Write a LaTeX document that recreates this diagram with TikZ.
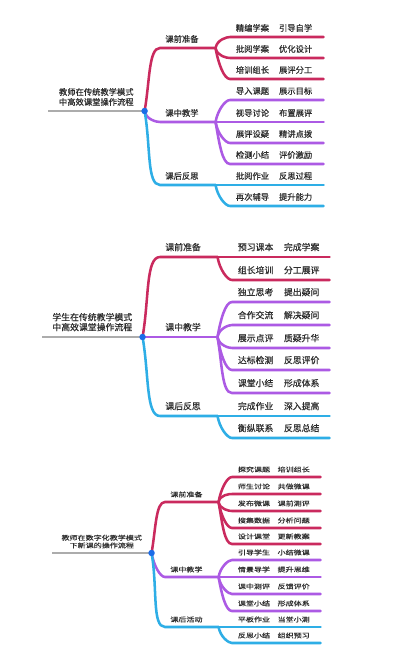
\documentclass[tikz,border=0pt]{standalone}
\usepackage{fontspec}
\setmainfont{Noto Sans CJK SC}[FakeBold=0.5]
\newfontfamily\cjkwide[FakeStretch=1.27, FakeBold=0.2]{Noto Sans CJK SC}
\usepackage{xcolor}
\usepackage{tikz}
\definecolor{mapred}{RGB}{202,42,94}
\definecolor{mappurple}{RGB}{172,90,228}
\definecolor{mapcyan}{RGB}{46,174,230}
\definecolor{hubblue}{RGB}{28,108,232}
\definecolor{stemgray}{RGB}{172,172,172}
\newcommand{\phrasegap}{\hspace{1.2em}}

\begin{document}
\begin{tikzpicture}[
    x=0.025cm, y=0.025cm,
    topic/.style={anchor=south west, inner xsep=0pt, align=center, text width=#1},
    branch/.style={anchor=south west, inner xsep=3.6pt, align=left, text width=#1},
    leaf/.style={anchor=south west, inner xsep=4pt, align=left, text width=#1},
    hub/.style={circle, fill=hubblue, inner sep=0pt, minimum size=4.6pt},
    stem/.style={draw=stemgray, line width=1.3pt},
    redline/.style={draw=mapred, line width=1.8pt, line cap=round},
    purpleline/.style={draw=mappurple, line width=1.8pt, line cap=round},
    cyanline/.style={draw=mapcyan, line width=1.8pt, line cap=round},
    rise/.style={out=80, in=180, out looseness=1.2, in looseness=0.45},
    fall/.style={out=-80, in=180, out looseness=1.2, in looseness=0.45}
  ]
    \fill[white] (0,0) rectangle (416,-660);
    \useasboundingbox (0,0) rectangle (416,-660);

    % teachers, traditional mode
    \begin{scope}[every node/.append style={font=\fontsize{5.9}{7.1}\selectfont, inner ysep=3.5pt, text=black!82}]
    \node[topic=68.3pt] (r1) at (48,-111) {教师在传统教学模式\\中高效课堂操作流程};
    \coordinate (o1) at (r1.south east);
    \node[branch=31.9pt] (b11) at (160,-48) {课前准备};
    \node[branch=31.9pt] (b12) at (160,-122) {课中教学};
    \node[branch=31.9pt] (b13) at (160,-185) {课后反思};
    \node[leaf=58.2pt] (c111) at (230,-37) {精编学案\phrasegap 引导自学};
    \node[leaf=58.2pt] (c112) at (230,-58) {批阅学案\phrasegap 优化设计};
    \node[leaf=58.2pt] (c113) at (230,-79) {培训组长\phrasegap 展评分工};
    \node[leaf=58.2pt] (c121) at (230,-100) {导入课题\phrasegap 展示目标};
    \node[leaf=58.2pt] (c122) at (230,-122) {视导讨论\phrasegap 布置展评};
    \node[leaf=58.2pt] (c123) at (230,-143) {展评设疑\phrasegap 精讲点拨};
    \node[leaf=58.2pt] (c124) at (230,-164) {检测小结\phrasegap 评价激励};
    \node[leaf=58.2pt] (c131) at (230,-185) {批阅作业\phrasegap 反思过程};
    \node[leaf=58.2pt] (c132) at (230,-206) {再次辅导\phrasegap 提升能力};
    \draw[stem] (r1.south west) -- (o1);
    \draw[redline] (o1) to[rise] (b11.south west) -- (b11.south east);
    \draw[redline] (b11.south east) to[rise] (c111.south west) -- (c111.south east);
    \draw[redline] (b11.south east) to[fall] (c112.south west) -- (c112.south east);
    \draw[redline] (b11.south east) to[fall] (c113.south west) -- (c113.south east);
    \draw[purpleline] (o1) to[fall] (b12.south west) -- (b12.south east);
    \draw[purpleline] (b12.south east) to[rise] (c121.south west) -- (c121.south east);
    \draw[purpleline] (b12.south east) -- (c122.south east);
    \draw[purpleline] (b12.south east) to[fall] (c123.south west) -- (c123.south east);
    \draw[purpleline] (b12.south east) to[fall] (c124.south west) -- (c124.south east);
    \draw[cyanline] (o1) to[fall] (b13.south west) -- (b13.south east);
    \draw[cyanline] (b13.south east) -- (c131.south east);
    \draw[cyanline] (b13.south east) to[fall] (c132.south west) -- (c132.south east);
    \node[hub] (h1) at (o1) {};
    \end{scope}

    % students, traditional mode
    \begin{scope}[every node/.append style={font=\fontsize{6.3}{7.1}\selectfont, inner ysep=3.9pt, text=black!82}]
    \node[topic=71.1pt] (r2) at (42,-337) {学生在传统教学模式\\中高效课堂操作流程};
    \coordinate (o2) at (r2.south east);
    \node[branch=33.3pt] (b21) at (160,-257) {课前准备};
    \node[branch=33.3pt] (b22) at (160,-337) {课中教学};
    \node[branch=33.3pt] (b23) at (160,-416) {课后反思};
    \node[leaf=61pt] (c211) at (232,-257) {预习课本\phrasegap 完成学案};
    \node[leaf=61pt] (c212) at (232,-280) {组长培训\phrasegap 分工展评};
    \node[leaf=61pt] (c221) at (232,-302) {独立思考\phrasegap 提出疑问};
    \node[leaf=61pt] (c222) at (232,-325) {合作交流\phrasegap 解决疑问};
    \node[leaf=61pt] (c223) at (232,-348) {展示点评\phrasegap 质疑升华};
    \node[leaf=61pt] (c224) at (232,-370) {达标检测\phrasegap 反思评价};
    \node[leaf=61pt] (c225) at (232,-393) {课堂小结\phrasegap 形成体系};
    \node[leaf=61pt] (c231) at (232,-416) {完成作业\phrasegap 深入提高};
    \node[leaf=61pt] (c232) at (232,-438) {衡纵联系\phrasegap 反思总结};
    \draw[stem] (r2.south west) -- (o2);
    \draw[redline] (o2) to[rise] (b21.south west) -- (b21.south east);
    \draw[redline] (b21.south east) -- (c211.south east);
    \draw[redline] (b21.south east) to[fall] (c212.south west) -- (c212.south east);
    \draw[purpleline] (o2) -- (b22.south east);
    \draw[purpleline] (b22.south east) to[rise] (c221.south west) -- (c221.south east);
    \draw[purpleline] (b22.south east) to[rise] (c222.south west) -- (c222.south east);
    \draw[purpleline] (b22.south east) to[fall] (c223.south west) -- (c223.south east);
    \draw[purpleline] (b22.south east) to[fall] (c224.south west) -- (c224.south east);
    \draw[purpleline] (b22.south east) to[fall] (c225.south west) -- (c225.south east);
    \draw[cyanline] (o2) to[fall] (b23.south west) -- (b23.south east);
    \draw[cyanline] (b23.south east) -- (c231.south east);
    \draw[cyanline] (b23.south east) to[fall] (c232.south west) -- (c232.south east);
    \node[hub] (h2) at (o2) {};
    \end{scope}

    % teachers, digital mode
    \begin{scope}[every node/.append style={font=\cjkwide\fontsize{4.5}{5.5}\selectfont, inner ysep=3.1pt, text=black!82}]
    \node[topic=70.4pt] (r3) at (52,-553) {教师在数字化教学模式\\下新课的操作流程};
    \coordinate (o3) at (r3.south east);
    \node[branch=30.5pt] (b31) at (165,-502) {课前准备};
    \node[branch=30.5pt] (b32) at (165,-577) {课中教学};
    \node[branch=30.5pt] (b33) at (165,-627) {课后活动};
    \node[leaf=54.6pt] (c311) at (232,-477) {探究课题\phrasegap 培训组长};
    \node[leaf=54.6pt] (c312) at (232,-494) {师生讨论\phrasegap 共做微课};
    \node[leaf=54.6pt] (c313) at (232,-511) {发布微课\phrasegap 课前测评};
    \node[leaf=54.6pt] (c314) at (232,-528) {搜集数据\phrasegap 分析问题};
    \node[leaf=54.6pt] (c315) at (232,-544) {设计课堂\phrasegap 更新教案};
    \node[leaf=54.6pt] (c321) at (232,-560) {引导学生\phrasegap 小结微课};
    \node[leaf=54.6pt] (c322) at (232,-577) {情景导学\phrasegap 提升思维};
    \node[leaf=54.6pt] (c323) at (232,-594) {课中测评\phrasegap 反馈评价};
    \node[leaf=54.6pt] (c324) at (232,-611) {课堂小结\phrasegap 形成体系};
    \node[leaf=54.6pt] (c331) at (232,-627) {平板作业\phrasegap 当堂小测};
    \node[leaf=54.6pt] (c332) at (232,-643) {反思小结\phrasegap 组织预习};
    \draw[stem] (r3.south west) -- (o3);
    \draw[redline] (o3) to[rise] (b31.south west) -- (b31.south east);
    \draw[redline] (b31.south east) to[rise] (c311.south west) -- (c311.south east);
    \draw[redline] (b31.south east) to[rise] (c312.south west) -- (c312.south east);
    \draw[redline] (b31.south east) to[fall] (c313.south west) -- (c313.south east);
    \draw[redline] (b31.south east) to[fall] (c314.south west) -- (c314.south east);
    \draw[redline] (b31.south east) to[fall] (c315.south west) -- (c315.south east);
    \draw[purpleline] (o3) to[fall] (b32.south west) -- (b32.south east);
    \draw[purpleline] (b32.south east) to[rise] (c321.south west) -- (c321.south east);
    \draw[purpleline] (b32.south east) -- (c322.south east);
    \draw[purpleline] (b32.south east) to[fall] (c323.south west) -- (c323.south east);
    \draw[purpleline] (b32.south east) to[fall] (c324.south west) -- (c324.south east);
    \draw[cyanline] (o3) to[fall] (b33.south west) -- (b33.south east);
    \draw[cyanline] (b33.south east) -- (c331.south east);
    \draw[cyanline] (b33.south east) to[fall] (c332.south west) -- (c332.south east);
    \node[hub] (h3) at (o3) {};
    \end{scope}
  \end{tikzpicture}
\end{document}
